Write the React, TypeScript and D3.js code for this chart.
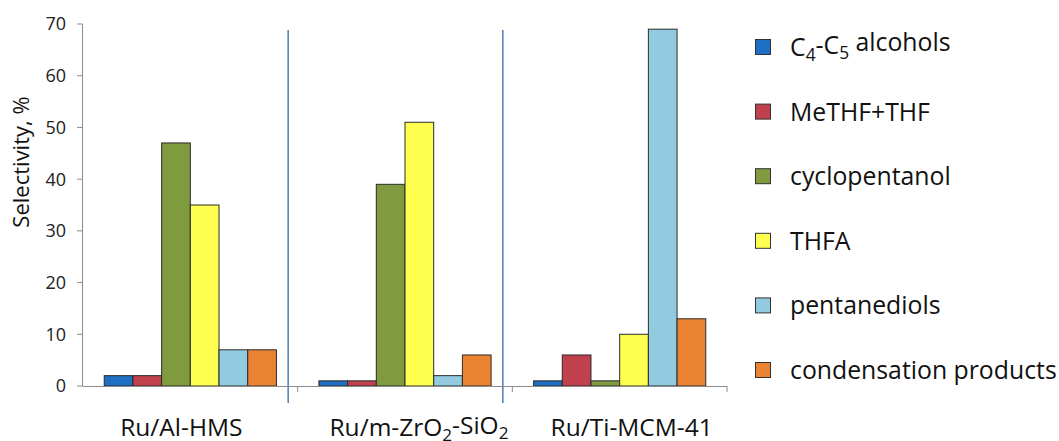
import React from "react";
import * as d3 from "d3";

const categories = ["Ru/Al-HMS", "Ru/m-ZrO2-SiO2", "Ru/Ti-MCM-41"];
const seriesNames = ["C4-C5 alcohols", "MeTHF+THF", "cyclopentanol", "THFA", "pentanediols", "condensation products"];
const seriesColors = ["#1f6fc4", "#c0404e", "#7f9a3f", "#ffff4f", "#92cbe0", "#ea8332"];
const values: number[][] = [
  [2, 2, 47, 35, 7, 7],
  [1, 1, 39, 51, 2, 6],
  [1, 6, 1, 10, 69, 13],
];
const yTicks = [0, 10, 20, 30, 40, 50, 60, 70];
const labelShift = [-9, 14, 12];

const FONT = "'Open Sans', 'Noto Sans', sans-serif";

function Sub({ parts }: { parts: [string, boolean][] }) {
  return (
    <>
      {parts.map(([t, sub], i) =>
        sub ? (
          <tspan key={i} dy="0.3em" fontSize="0.7em">{t}</tspan>
        ) : (
          <tspan key={i} dy={i > 0 && parts[i - 1][1] ? "-0.3em" : undefined}>{t}</tspan>
        )
      )}
    </>
  );
}

function richLabel(s: string): [string, boolean][] {
  if (s === "C4-C5 alcohols") return [["C", false], ["4", true], ["-C", false], ["5", true], [" alcohols", false]];
  if (s === "Ru/m-ZrO2-SiO2") return [["Ru/m-ZrO", false], ["2", true], ["-SiO", false], ["2", true]];
  return [[s, false]];
}

export default function App() {
  const W = 1059, H = 441;
  const y = d3.scaleLinear().domain([0, 70]).range([386, 24]);
  const x = d3.scaleBand<string>().domain(categories).range([83, 727]).padding(0);
  const xs = d3.scaleBand<number>().domain(d3.range(seriesNames.length)).range([0, x.bandwidth()]).paddingInner(0).paddingOuter(0.74);
  const legendY = d3.scalePoint<number>().domain(d3.range(seriesNames.length)).range([47, 370]);

  return (
    <svg width={W} height={H} style={{ position: "absolute", left: 0, top: 0, background: "#fff" }} fontFamily={FONT}>
      <rect x={0} y={0} width={W} height={H} fill="#fff" />
      {/* bars */}
      {categories.map((c, ci) =>
        values[ci].map((v, si) => (
          <rect key={`${ci}-${si}`} x={(x(c) as number) + (xs(si) as number)} y={y(v)} width={xs.bandwidth()} height={y(0) - y(v)}
            fill={seriesColors[si]} stroke="#2a2a2a" strokeWidth={1} />
        ))
      )}
      {/* separators */}
      {categories.slice(1).map((c, i) => (
        <line key={i} x1={(x(c) as number) - 9.5} x2={(x(c) as number) - 9.5} y1={30} y2={403} stroke="#4a7fb5" strokeWidth={1.5} />
      ))}
      {/* y axis */}
      <line x1={82.5} x2={82.5} y1={y(70)} y2={y(0)} stroke="#8c8c8c" strokeWidth={1} />
      {yTicks.map((t) => (
        <g key={t}>
          <line x1={77} x2={82.5} y1={y(t)} y2={y(t)} stroke="#8c8c8c" strokeWidth={1} />
          <text x={66} y={y(t)} dy="0.36em" textAnchor="end" fontSize={18} fill="#222">{t}</text>
        </g>
      ))}
      {/* x axis */}
      <line x1={82.5} x2={727} y1={y(0) + 0.5} y2={y(0) + 0.5} stroke="#8c8c8c" strokeWidth={1} />
      {[...categories.map((c) => x(c) as number), 727].slice(1).map((px, i) => (
        <line key={i} x1={px} x2={px} y1={y(0)} y2={y(0) + 6} stroke="#8c8c8c" strokeWidth={1} />
      ))}
      {categories.map((c, i) => (
        <text key={c} x={(x(c) as number) + x.bandwidth() / 2 + labelShift[i]} y={436} textAnchor="middle" fontSize={24.5} fill="#111">
          <Sub parts={richLabel(c)} />
        </text>
      ))}
      {/* y title */}
      <text transform="translate(29,162) rotate(-90)" textAnchor="middle" fontSize={22} fill="#111">Selectivity, %</text>
      {/* legend */}
      {seriesNames.map((s, i) => (
        <g key={s} transform={`translate(0,${legendY(i)})`}>
          <rect x={755.5} y={-7.5} width={15} height={15} fill={seriesColors[i]} stroke="#333" strokeWidth={1} />
          <text x={790} y={0} dy="0.36em" fontSize={24.8} fill="#111">
            <Sub parts={richLabel(s)} />
          </text>
        </g>
      ))}
    </svg>
  );
}
